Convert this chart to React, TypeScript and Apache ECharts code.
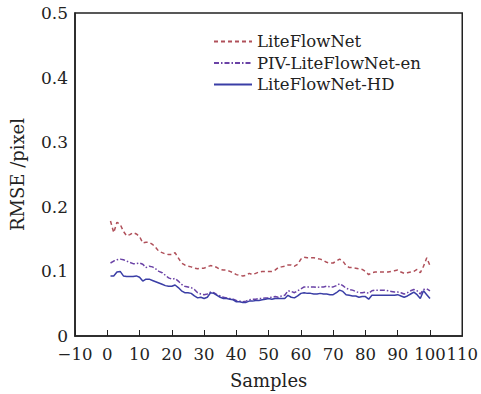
import React, { useEffect, useRef } from "react";
import * as echarts from "echarts";

const samples: number[] = Array.from({ length: 100 }, (_, i) => i + 1);

const liteFlowNet: number[] = [
  0.178, 0.16, 0.176, 0.173, 0.162, 0.155, 0.157, 0.16, 0.158, 0.154,
  0.144, 0.145, 0.145, 0.142, 0.137, 0.131, 0.129, 0.127, 0.126, 0.126,
  0.129, 0.121, 0.113, 0.11, 0.108, 0.107, 0.105, 0.104, 0.105, 0.105,
  0.107, 0.109, 0.108, 0.106, 0.103, 0.102, 0.102, 0.1, 0.098, 0.095,
  0.094, 0.093, 0.094, 0.097, 0.095, 0.097, 0.099, 0.1, 0.1, 0.1,
  0.1, 0.102, 0.106, 0.107, 0.108, 0.11, 0.11, 0.108, 0.111, 0.119,
  0.122, 0.121, 0.121, 0.121, 0.12, 0.119, 0.117, 0.114, 0.113, 0.113,
  0.116, 0.119, 0.116, 0.109, 0.106, 0.106, 0.105, 0.104, 0.103, 0.1,
  0.095, 0.098, 0.099, 0.099, 0.099, 0.099, 0.099, 0.1, 0.101, 0.102,
  0.099, 0.097, 0.098, 0.099, 0.1, 0.103, 0.098, 0.108, 0.121, 0.109,
];

const pivLiteFlowNetEn: number[] = [
  0.113, 0.116, 0.118, 0.119, 0.118, 0.116, 0.114, 0.112, 0.112, 0.113,
  0.111, 0.106, 0.108, 0.107, 0.104, 0.1, 0.098, 0.094, 0.09, 0.088,
  0.089, 0.085, 0.08, 0.077, 0.076, 0.075, 0.072, 0.067, 0.065, 0.064,
  0.065, 0.068, 0.067, 0.064, 0.062, 0.06, 0.059, 0.058, 0.057, 0.055,
  0.054, 0.053, 0.054, 0.056, 0.057, 0.057, 0.058, 0.058, 0.059, 0.059,
  0.06, 0.061, 0.06, 0.062, 0.063, 0.07, 0.069, 0.067, 0.07, 0.073,
  0.076, 0.076, 0.076, 0.076, 0.075, 0.076, 0.076, 0.077, 0.076, 0.076,
  0.078, 0.081, 0.078, 0.074, 0.072, 0.071, 0.069, 0.067, 0.067, 0.068,
  0.066, 0.07, 0.071, 0.071, 0.071, 0.071, 0.07, 0.069, 0.068, 0.068,
  0.067, 0.065, 0.067, 0.07, 0.072, 0.07, 0.065, 0.072, 0.073, 0.07,
];

const liteFlowNetHD: number[] = [
  0.093, 0.093, 0.099, 0.1, 0.093, 0.092, 0.092, 0.092, 0.093, 0.091,
  0.085, 0.088, 0.088, 0.086, 0.084, 0.082, 0.08, 0.078, 0.077, 0.077,
  0.079, 0.075, 0.07, 0.067, 0.067, 0.066, 0.062, 0.059, 0.06, 0.058,
  0.06, 0.067, 0.066, 0.063, 0.06, 0.058, 0.058, 0.057, 0.056, 0.053,
  0.053, 0.052, 0.052, 0.054, 0.054, 0.055, 0.055, 0.056, 0.057, 0.058,
  0.057, 0.058, 0.058, 0.058, 0.058, 0.063, 0.06, 0.059, 0.062, 0.066,
  0.067, 0.066, 0.066, 0.065, 0.065, 0.066, 0.065, 0.065, 0.064, 0.064,
  0.067, 0.071, 0.069, 0.064, 0.063, 0.062, 0.062, 0.06, 0.061, 0.061,
  0.057, 0.063, 0.063, 0.063, 0.063, 0.063, 0.063, 0.063, 0.063, 0.064,
  0.062, 0.06, 0.062, 0.065, 0.068, 0.064, 0.058, 0.07, 0.064, 0.058,
];

const seriesNames: string[] = ["LiteFlowNet", "PIV-LiteFlowNet-en", "LiteFlowNet-HD"];

const FONT = "DejaVu Serif";

export default function App() {
  const ref = useRef<HTMLDivElement>(null);

  useEffect(() => {
    if (!ref.current) return;
    const chart = echarts.init(ref.current, undefined, { renderer: "svg" });
    const pair = (arr: number[]) => samples.map((s, i) => [s, arr[i]]);
    chart.setOption({
      animation: false,
      backgroundColor: "#ffffff",
      textStyle: { fontFamily: FONT },
      grid: {
        left: 70,
        right: 17,
        top: 13,
        bottom: 57,
        show: true,
        borderColor: "#222",
        borderWidth: 1.5,
      },
      legend: {
        orient: "vertical",
        left: 208,
        top: 28,
        itemWidth: 38,
        itemHeight: 14,
        itemGap: 4.5,
        itemStyle: { opacity: 0 },
        textStyle: { fontFamily: FONT, fontSize: 16.5, lineHeight: 16, color: "#222" },
        data: seriesNames,
      },
      xAxis: {
        type: "value",
        min: -10,
        max: 110,
        interval: 10,
        name: "Samples",
        nameLocation: "middle",
        nameGap: 35,
        nameTextStyle: { fontFamily: FONT, fontSize: 18, color: "#222" },
        axisLine: { show: true, onZero: false, lineStyle: { color: "#222", width: 1.5 } },
        axisTick: { show: true, inside: true, length: 6, lineStyle: { color: "#222" } },
        axisLabel: {
          fontFamily: FONT,
          fontSize: 16.5,
          color: "#222",
          margin: 10,
          showMinLabel: true,
          showMaxLabel: true,
          hideOverlap: false,
          formatter: (v: number) => (v < 0 ? "\u2212" + Math.abs(v) : String(v)),
        },
        splitLine: { show: false },
      },
      yAxis: {
        type: "value",
        min: 0,
        max: 0.5,
        interval: 0.1,
        name: "RMSE /pixel",
        nameLocation: "middle",
        nameGap: 49,
        nameTextStyle: { fontFamily: FONT, fontSize: 18, color: "#222" },
        axisLine: { show: true, onZero: false, lineStyle: { color: "#222", width: 1.5 } },
        axisTick: { show: false },
        axisLabel: {
          fontFamily: FONT,
          fontSize: 17,
          color: "#222",
          margin: 7,
          formatter: (v: number) => (v === 0 ? "0" : v.toFixed(1)),
        },
        splitLine: { show: false },
      },
      series: [
        {
          name: seriesNames[0],
          type: "line",
          data: pair(liteFlowNet),
          symbol: "none",
          lineStyle: { color: "#b0505a", width: 1.5, type: [4, 3] },
          itemStyle: { color: "#b0505a" },
        },
        {
          name: seriesNames[1],
          type: "line",
          data: pair(pivLiteFlowNetEn),
          symbol: "none",
          lineStyle: { color: "#6a42a6", width: 1.5, type: [5, 2, 1.5, 2] },
          itemStyle: { color: "#6a42a6" },
        },
        {
          name: seriesNames[2],
          type: "line",
          data: pair(liteFlowNetHD),
          symbol: "none",
          lineStyle: { color: "#3a3ea6", width: 1.5, type: "solid" },
          itemStyle: { color: "#3a3ea6" },
        },
      ],
    });
    return () => chart.dispose();
  }, []);

  return <div ref={ref} style={{ width: 481, height: 394, position: "absolute", left: 0, top: 0 }} />;
}
